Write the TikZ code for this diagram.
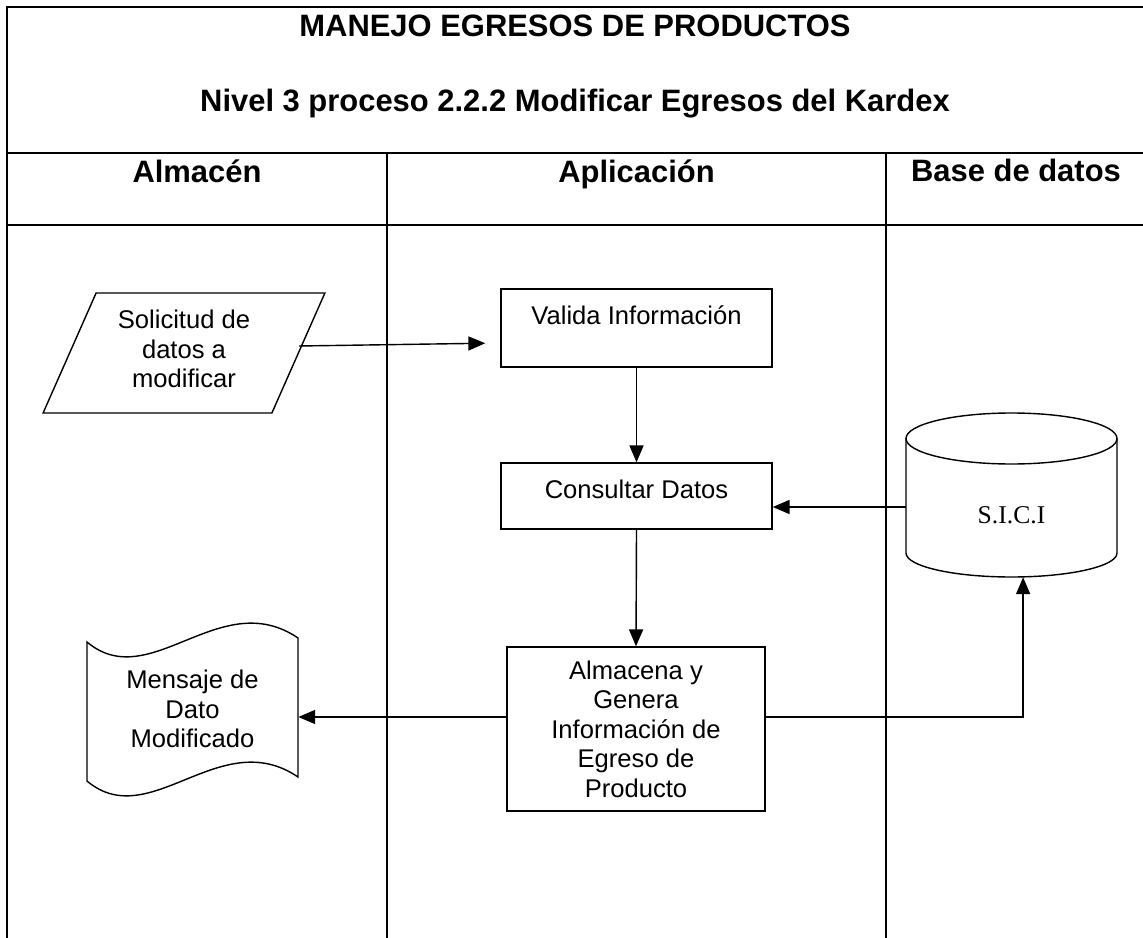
\documentclass[tikz,border=0pt]{standalone}
\usepackage{fontspec}
\setmainfont{Liberation Sans}
\newfontfamily\serifa{Liberation Serif}
\usetikzlibrary{arrows.meta,shapes.geometric}
\begin{document}
\begin{tikzpicture}[x=0.025cm,y=-0.025cm,
  marco/.style={line width=1.5pt},
  linea/.style={line width=1pt},
  caja/.style={draw,line width=1pt,align=center,inner sep=0pt,font=\fontsize{18.2}{21}\selectfont},
  texto/.style={align=center,inner sep=0pt,font=\fontsize{18.2}{21}\selectfont},
  titulo/.style={anchor=base,inner sep=0pt,font=\fontsize{22}{26}\selectfont\bfseries},
  flecha/.style={line width=1pt,-{Triangle[length=12pt,width=10pt]}}]
\useasboundingbox (0,0) rectangle (1143,938);
% marco y carriles
\draw[marco] (7,938) -- (7,7) -- (1143,7);
\foreach \y in {153,225}
  \draw[marco] (7,\y) -- (1143,\y);
\foreach \x in {387,886}
  \draw[marco] (\x,153) -- (\x,938);
\node[titulo] (tit) at (575,37) {MANEJO EGRESOS DE PRODUCTOS};
\node[titulo] (sub) at (575,112) {Nivel 3 proceso 2.2.2 Modificar Egresos del Kardex};
\node[titulo] (almacen) at (197,183) {Almacén};
\node[titulo] (aplic) at (636.5,183) {Aplicación};
\node[titulo] (base) at (1016,182) {Base de datos};
% almacen
\node[caja,trapezium,trapezium left angle=65,trapezium right angle=115,trapezium stretches=true,
  minimum width=7.05cm,minimum height=3cm,text depth=0.2cm] (sol) at (184,353) {Solicitud de\\datos a\\modificar};
\draw[linea] (87,642) .. controls (150,695) and (220,585) .. (298,638) -- (298,777)
  .. controls (220,724) and (150,834) .. (87,781) -- cycle;
\node[texto,minimum width=5.275cm,minimum height=3.5cm] (msj) at (192.5,709) {Mensaje de\\Dato\\Modificado};
% aplicacion
\node[caja,minimum width=6.775cm,minimum height=1.95cm,text depth=0.625cm] (valida) at (636.5,328) {Valida Información};
\node[caja,minimum width=6.775cm,minimum height=1.65cm,text depth=0.35cm] (consulta) at (636.5,496) {Consultar Datos};
\node[caja,minimum width=6.45cm,minimum height=4.1cm] (guarda) at (636,729) {Almacena y\\Genera\\Información de\\Egreso de\\Producto};
% base de datos
\draw[linea] (906,438) -- (906,553) arc[start angle=180,end angle=0,x radius=105.5,y radius=24] -- (1117,438);
\draw[linea] (1011.5,438.5) ellipse [x radius=105.5,y radius=25.5];
\node[minimum width=5.275cm,minimum height=4.1cm,inner sep=0pt,text height=1.4cm,text depth=0pt,
  font=\fontsize{18.2}{21}\serifa] (bd) at (1011.5,495) {S.I.C.I};
% flujos
\draw[flecha,shorten >=0.375cm] ([yshift=0.175cm]sol.east) -- ([yshift=-0.375cm]valida.west);
\draw[flecha] (valida) -- (consulta);
\draw[flecha] ([yshift=-0.3cm]bd.west) -- ([yshift=-0.3cm]bd.west -| consulta.east);
\draw[flecha] (consulta.south) -- (guarda.north);
\draw[flecha] ([yshift=0.3cm]guarda.west) -- ([yshift=0.3cm]guarda.west -| msj.east);
\draw[flecha] ([yshift=0.3cm]guarda.east) -| ([xshift=0.29cm]bd.south);
\end{tikzpicture}
\end{document}
